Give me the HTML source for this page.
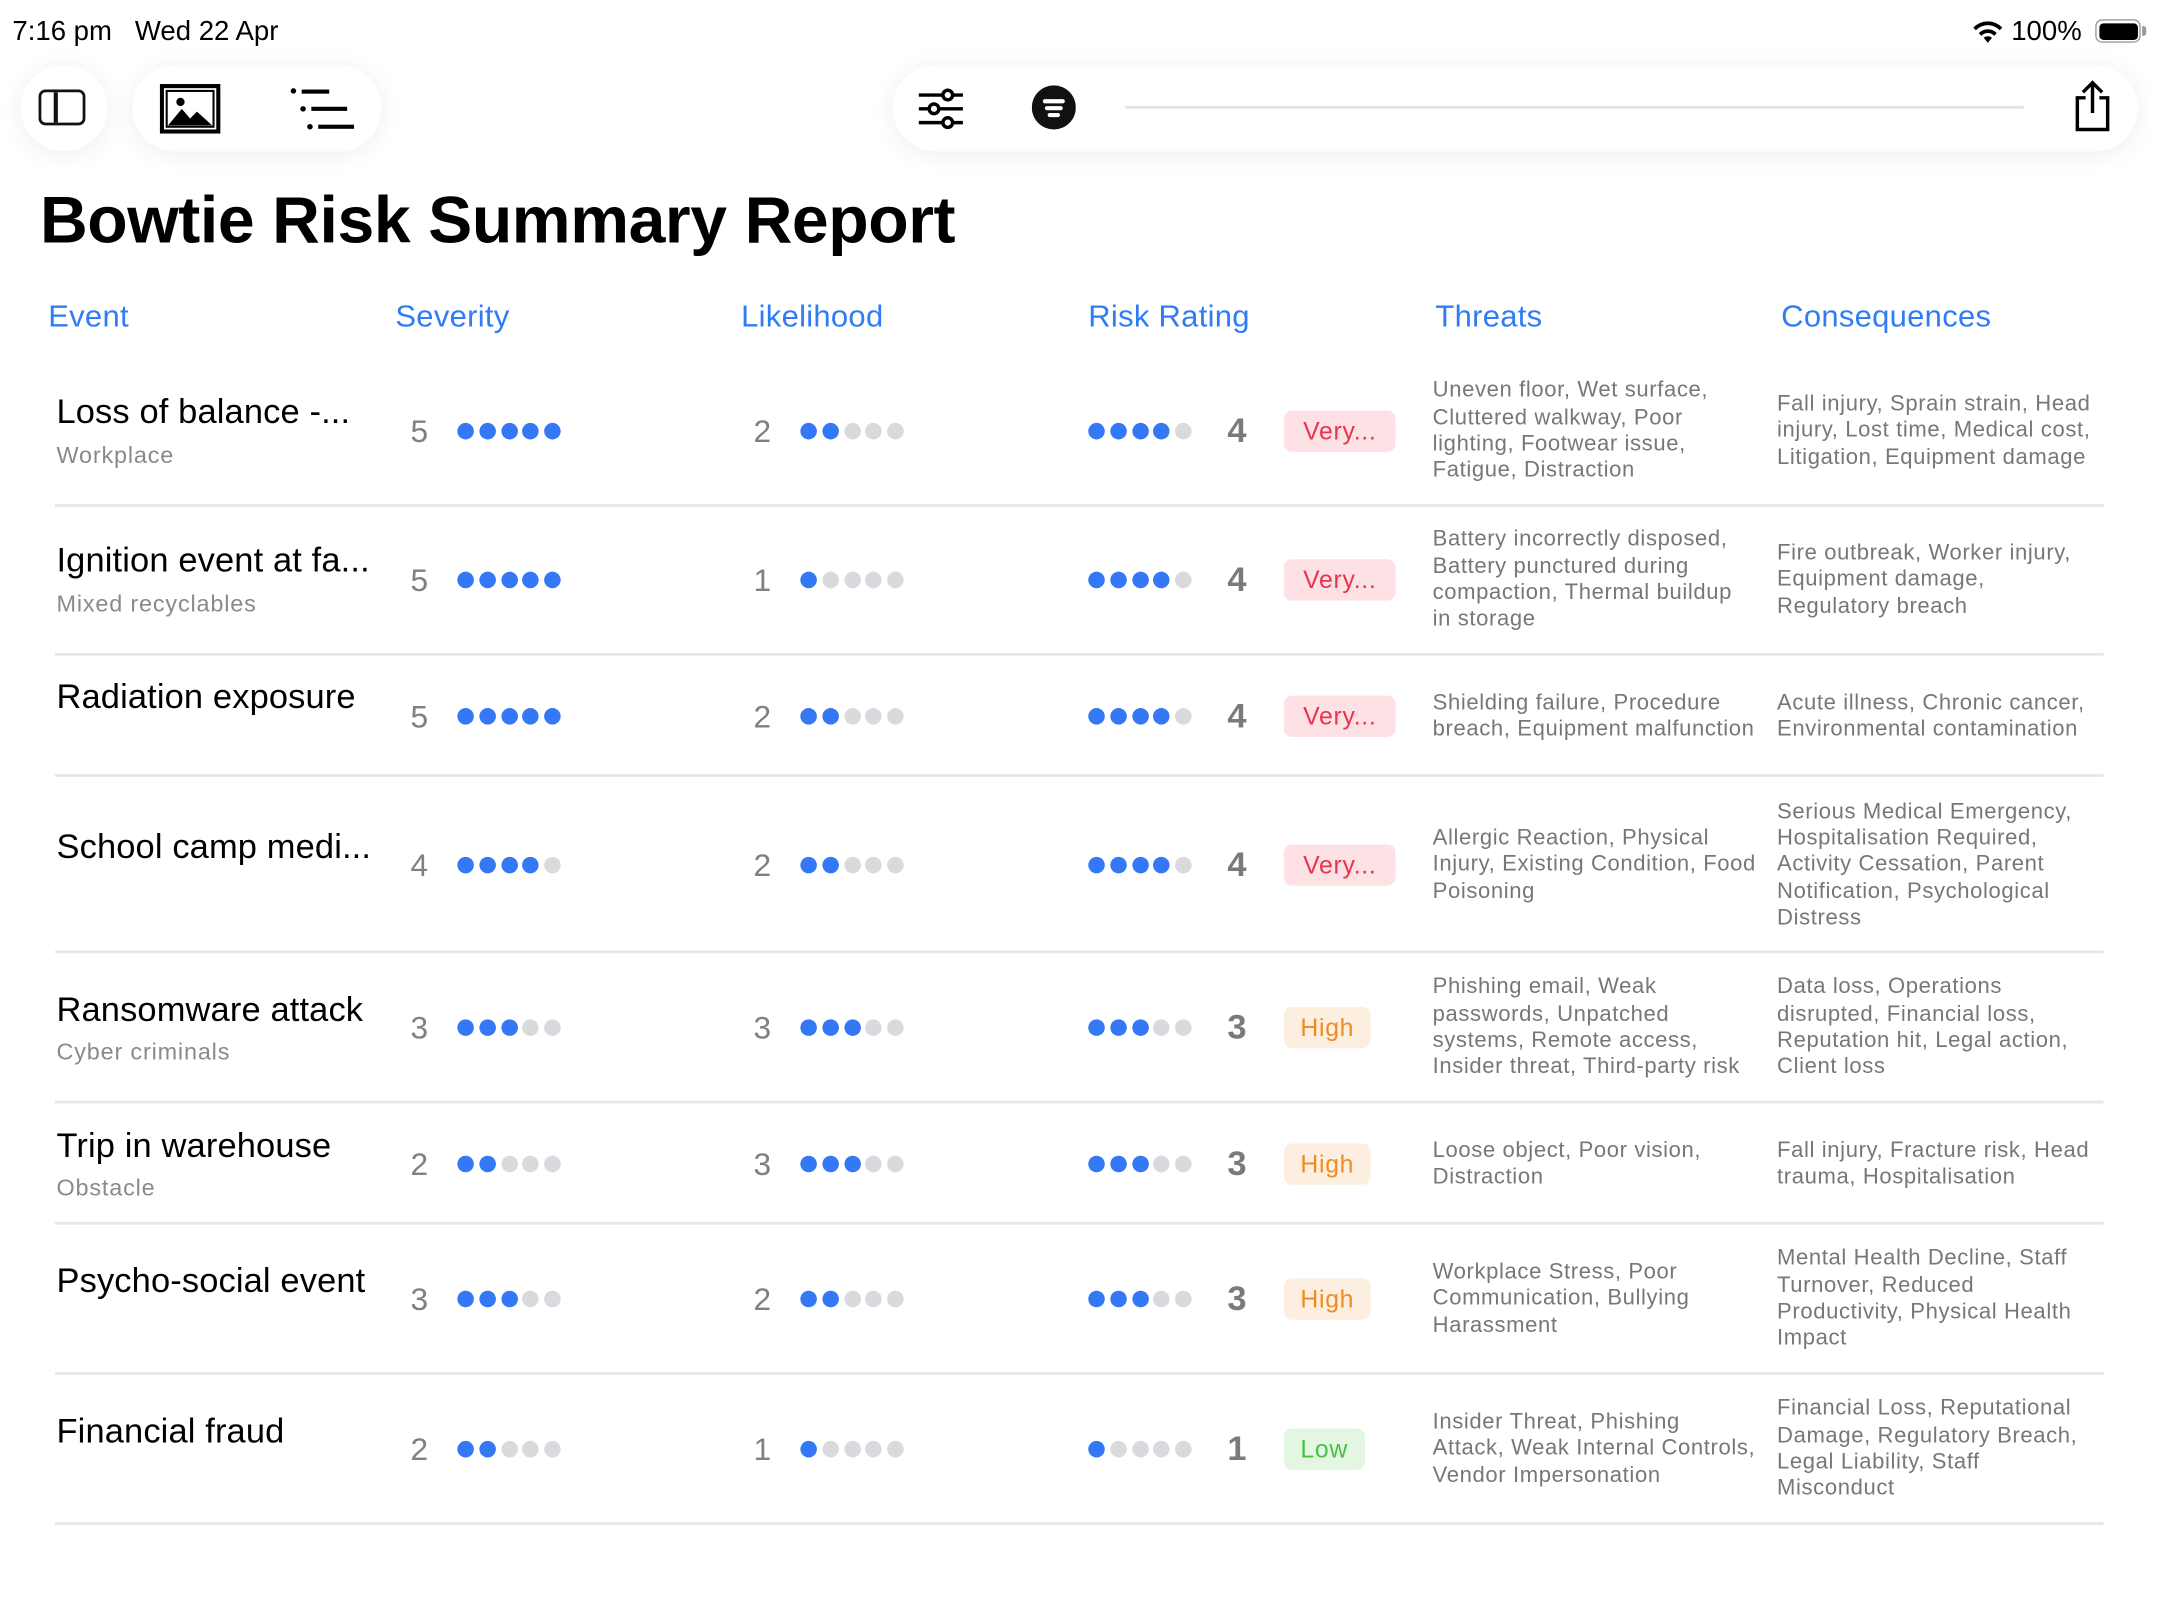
<!DOCTYPE html>
<html><head><meta charset="utf-8">
<style>
html,body{margin:0;padding:0;background:#fff;width:2160px;height:1620px;overflow:hidden}
#s{position:absolute;left:0;top:0;width:1568px;height:1176px;transform:scale(1.377551);transform-origin:0 0;font-family:"Liberation Sans",sans-serif;background:#fff}
.a{position:absolute}
.pill{position:absolute;background:#fff;border-radius:32px;box-shadow:0 2px 18px rgba(0,0,0,0.07)}
.hd{position:absolute;top:217px;font-size:22.5px;color:#2f7cf6;letter-spacing:0.2px}
.row{position:absolute;left:0;width:1568px}
.sep{position:absolute;left:40px;width:1487px;height:2px;background:#e6e6e6}
.c{position:absolute;top:0;bottom:0;display:flex;align-items:center}
.ev{position:absolute;left:41px;font-size:25px;color:#000;white-space:nowrap;letter-spacing:0.1px}
.sub{position:absolute;left:41px;font-size:17px;color:#8a8a8a;white-space:nowrap;letter-spacing:0.6px}
.num{font-size:23px;color:#808080;width:24px}
.dots{display:flex;gap:3.8px}
.d{width:12px;height:12px;border-radius:50%;background:#d9d9de}
.d.b{background:#3478f6}
.rn{font-size:25px;color:#7a7a7a;font-weight:bold}
.bd{height:30px;border-radius:6px;font-size:18px;display:flex;align-items:center;padding:0 12px;letter-spacing:0.5px}
.vh{background:#fde1e5;color:#e8334a;padding:0 14px}
.hi{background:#fdefe0;color:#f08a24}
.lo{background:#e3f6e2;color:#4cbf4a}
.tx{font-size:16px;line-height:19.3px;color:#777;white-space:nowrap;letter-spacing:0.45px}
</style></head><body><div id="s">
<div class="a" style="left:9px;top:12px;font-size:20px;color:#000">7:16 pm&nbsp;&nbsp; Wed 22 Apr</div>
<svg class="a" style="left:1431px;top:14px" width="24" height="18" viewBox="0 0 24 18"><path d="M12 17l-3-3.5a4.5 4.5 0 0 1 6 0z M5.5 10a9 9 0 0 1 13 0l-1.8 2a6.5 6.5 0 0 0-9.4 0z M1.5 6a14.5 14.5 0 0 1 21 0l-1.8 2a12 12 0 0 0-17.4 0z" fill="#000"/></svg>
<div class="a" style="left:1460px;top:12px;font-size:20px;color:#000">100%</div>
<div class="a" style="left:1521px;top:14px;width:33px;height:17px;border:1.5px solid #999;border-radius:5px;box-sizing:border-box"><div style="position:absolute;left:1.5px;top:1.5px;right:1.5px;bottom:1.5px;background:#000;border-radius:3px"></div></div>
<div class="a" style="left:1555px;top:19px;width:3px;height:7px;background:#999;border-radius:0 2px 2px 0"></div>

<div class="pill" style="left:15px;top:47px;width:63px;height:63px"></div>
<div class="a" style="left:28px;top:65px;width:34px;height:26px;border:2.5px solid #111;border-radius:5px;box-sizing:border-box"><div style="position:absolute;left:9px;top:0;bottom:0;width:2.5px;background:#111"></div></div>
<div class="pill" style="left:96px;top:47px;width:181px;height:63px"></div>
<svg class="a" style="left:116px;top:61px" width="44" height="36" viewBox="0 0 44 36"><rect x="1.5" y="1.5" width="41" height="33" fill="none" stroke="#000" stroke-width="3"/><rect x="5" y="5" width="34" height="26" fill="none" stroke="#000" stroke-width="1.5"/><circle cx="15" cy="13" r="3" fill="#000"/><path d="M6 30l10-12 6 7 5-5 11 10z" fill="#000"/></svg>
<svg class="a" style="left:210px;top:63px" width="48" height="32" viewBox="0 0 48 32"><circle cx="3" cy="3" r="2" fill="#000"/><rect x="9" y="2" width="20" height="3" fill="#000"/><circle cx="10" cy="16" r="2" fill="#000"/><rect x="16" y="14.5" width="26" height="3" fill="#000"/><circle cx="15" cy="29" r="2" fill="#000"/><rect x="21" y="27.5" width="26" height="3" fill="#000"/></svg>
<div class="pill" style="left:648px;top:47px;width:904px;height:63px"></div>
<svg class="a" style="left:666px;top:64px" width="34" height="30" viewBox="0 0 34 30"><g stroke="#000" stroke-width="2.5" fill="#fff"><line x1="1" y1="5" x2="33" y2="5"/><line x1="1" y1="15" x2="33" y2="15"/><line x1="1" y1="25" x2="33" y2="25"/><circle cx="22" cy="5" r="3.5"/><circle cx="12" cy="15" r="3.5"/><circle cx="22" cy="25" r="3.5"/></g></svg>
<svg class="a" style="left:749px;top:62px" width="32" height="32" viewBox="0 0 32 32"><circle cx="16" cy="16" r="16" fill="#111"/><rect x="8" y="10" width="16" height="3" rx="1.5" fill="#fff"/><rect x="9.5" y="15" width="13" height="3" rx="1.5" fill="#fff"/><rect x="11.5" y="20" width="9" height="3" rx="1.5" fill="#fff"/></svg>
<div class="a" style="left:817px;top:77px;width:652px;height:2px;background:#e3e3e3"></div>
<svg class="a" style="left:1504px;top:58px" width="30" height="38" viewBox="0 0 30 38"><path d="M10 13H4v23h22V13h-6" fill="none" stroke="#000" stroke-width="2.5"/><path d="M15 24V2M8 9l7-7 7 7" fill="none" stroke="#000" stroke-width="2.5"/></svg>

<div class="a" style="left:29px;top:133px;font-size:48px;font-weight:bold;color:#000;letter-spacing:-0.3px">Bowtie Risk Summary Report</div>

<div class="hd" style="left:35px">Event</div>
<div class="hd" style="left:287px">Severity</div>
<div class="hd" style="left:538px">Likelihood</div>
<div class="hd" style="left:790px">Risk Rating</div>
<div class="hd" style="left:1042px">Threats</div>
<div class="hd" style="left:1293px">Consequences</div>

<!-- Row 1 -->
<div class="row" style="top:259px;height:108px">
<div class="ev" style="top:26px">Loss of balance -...</div><div class="sub" style="top:62px">Workplace</div>
<div class="c" style="left:298px"><span class="num">5</span><div class="dots" style="margin-left:10px"><i class="d b"></i><i class="d b"></i><i class="d b"></i><i class="d b"></i><i class="d b"></i></div></div>
<div class="c" style="left:547px"><span class="num">2</span><div class="dots" style="margin-left:10px"><i class="d b"></i><i class="d b"></i><i class="d"></i><i class="d"></i><i class="d"></i></div></div>
<div class="c" style="left:790px"><div class="dots"><i class="d b"></i><i class="d b"></i><i class="d b"></i><i class="d b"></i><i class="d"></i></div></div>
<div class="c" style="left:891px"><span class="rn">4</span></div>
<div class="c" style="left:932px"><span class="bd vh">Very...</span></div>
<div class="c tx" style="left:1040px">Uneven floor, Wet surface,<br>Cluttered walkway, Poor<br>lighting, Footwear issue,<br>Fatigue, Distraction</div>
<div class="c tx" style="left:1290px">Fall injury, Sprain strain, Head<br>injury, Lost time, Medical cost,<br>Litigation, Equipment damage</div>
</div>
<div class="sep" style="top:366px"></div>

<!-- Row 2 -->
<div class="row" style="top:367px;height:108px">
<div class="ev" style="top:26px">Ignition event at fa...</div><div class="sub" style="top:62px">Mixed recyclables</div>
<div class="c" style="left:298px"><span class="num">5</span><div class="dots" style="margin-left:10px"><i class="d b"></i><i class="d b"></i><i class="d b"></i><i class="d b"></i><i class="d b"></i></div></div>
<div class="c" style="left:547px"><span class="num">1</span><div class="dots" style="margin-left:10px"><i class="d b"></i><i class="d"></i><i class="d"></i><i class="d"></i><i class="d"></i></div></div>
<div class="c" style="left:790px"><div class="dots"><i class="d b"></i><i class="d b"></i><i class="d b"></i><i class="d b"></i><i class="d"></i></div></div>
<div class="c" style="left:891px"><span class="rn">4</span></div>
<div class="c" style="left:932px"><span class="bd vh">Very...</span></div>
<div class="c tx" style="left:1040px">Battery incorrectly disposed,<br>Battery punctured during<br>compaction, Thermal buildup<br>in storage</div>
<div class="c tx" style="left:1290px">Fire outbreak, Worker injury,<br>Equipment damage,<br>Regulatory breach</div>
</div>
<div class="sep" style="top:474px"></div>

<!-- Row 3 -->
<div class="row" style="top:476px;height:88px">
<div class="ev" style="top:16px">Radiation exposure</div>
<div class="c" style="left:298px"><span class="num">5</span><div class="dots" style="margin-left:10px"><i class="d b"></i><i class="d b"></i><i class="d b"></i><i class="d b"></i><i class="d b"></i></div></div>
<div class="c" style="left:547px"><span class="num">2</span><div class="dots" style="margin-left:10px"><i class="d b"></i><i class="d b"></i><i class="d"></i><i class="d"></i><i class="d"></i></div></div>
<div class="c" style="left:790px"><div class="dots"><i class="d b"></i><i class="d b"></i><i class="d b"></i><i class="d b"></i><i class="d"></i></div></div>
<div class="c" style="left:891px"><span class="rn">4</span></div>
<div class="c" style="left:932px"><span class="bd vh">Very...</span></div>
<div class="c tx" style="left:1040px">Shielding failure, Procedure<br>breach, Equipment malfunction</div>
<div class="c tx" style="left:1290px">Acute illness, Chronic cancer,<br>Environmental contamination</div>
</div>
<div class="sep" style="top:562px"></div>

<!-- Row 4 -->
<div class="row" style="top:564px;height:128px">
<div class="ev" style="top:37px">School camp medi...</div>
<div class="c" style="left:298px"><span class="num">4</span><div class="dots" style="margin-left:10px"><i class="d b"></i><i class="d b"></i><i class="d b"></i><i class="d b"></i><i class="d"></i></div></div>
<div class="c" style="left:547px"><span class="num">2</span><div class="dots" style="margin-left:10px"><i class="d b"></i><i class="d b"></i><i class="d"></i><i class="d"></i><i class="d"></i></div></div>
<div class="c" style="left:790px"><div class="dots"><i class="d b"></i><i class="d b"></i><i class="d b"></i><i class="d b"></i><i class="d"></i></div></div>
<div class="c" style="left:891px"><span class="rn">4</span></div>
<div class="c" style="left:932px"><span class="bd vh">Very...</span></div>
<div class="c tx" style="left:1040px">Allergic Reaction, Physical<br>Injury, Existing Condition, Food<br>Poisoning</div>
<div class="c tx" style="left:1290px">Serious Medical Emergency,<br>Hospitalisation Required,<br>Activity Cessation, Parent<br>Notification, Psychological<br>Distress</div>
</div>
<div class="sep" style="top:690px"></div>

<!-- Row 5 -->
<div class="row" style="top:692px;height:108px">
<div class="ev" style="top:27px">Ransomware attack</div><div class="sub" style="top:62px">Cyber criminals</div>
<div class="c" style="left:298px"><span class="num">3</span><div class="dots" style="margin-left:10px"><i class="d b"></i><i class="d b"></i><i class="d b"></i><i class="d"></i><i class="d"></i></div></div>
<div class="c" style="left:547px"><span class="num">3</span><div class="dots" style="margin-left:10px"><i class="d b"></i><i class="d b"></i><i class="d b"></i><i class="d"></i><i class="d"></i></div></div>
<div class="c" style="left:790px"><div class="dots"><i class="d b"></i><i class="d b"></i><i class="d b"></i><i class="d"></i><i class="d"></i></div></div>
<div class="c" style="left:891px"><span class="rn">3</span></div>
<div class="c" style="left:932px"><span class="bd hi">High</span></div>
<div class="c tx" style="left:1040px">Phishing email, Weak<br>passwords, Unpatched<br>systems, Remote access,<br>Insider threat, Third-party risk</div>
<div class="c tx" style="left:1290px">Data loss, Operations<br>disrupted, Financial loss,<br>Reputation hit, Legal action,<br>Client loss</div>
</div>
<div class="sep" style="top:799px"></div>

<!-- Row 6 -->
<div class="row" style="top:801px;height:88px">
<div class="ev" style="top:17px">Trip in warehouse</div><div class="sub" style="top:52px">Obstacle</div>
<div class="c" style="left:298px"><span class="num">2</span><div class="dots" style="margin-left:10px"><i class="d b"></i><i class="d b"></i><i class="d"></i><i class="d"></i><i class="d"></i></div></div>
<div class="c" style="left:547px"><span class="num">3</span><div class="dots" style="margin-left:10px"><i class="d b"></i><i class="d b"></i><i class="d b"></i><i class="d"></i><i class="d"></i></div></div>
<div class="c" style="left:790px"><div class="dots"><i class="d b"></i><i class="d b"></i><i class="d b"></i><i class="d"></i><i class="d"></i></div></div>
<div class="c" style="left:891px"><span class="rn">3</span></div>
<div class="c" style="left:932px"><span class="bd hi">High</span></div>
<div class="c tx" style="left:1040px">Loose object, Poor vision,<br>Distraction</div>
<div class="c tx" style="left:1290px">Fall injury, Fracture risk, Head<br>trauma, Hospitalisation</div>
</div>
<div class="sep" style="top:887px"></div>

<!-- Row 7 -->
<div class="row" style="top:889px;height:108px">
<div class="ev" style="top:27px">Psycho-social event</div>
<div class="c" style="left:298px"><span class="num">3</span><div class="dots" style="margin-left:10px"><i class="d b"></i><i class="d b"></i><i class="d b"></i><i class="d"></i><i class="d"></i></div></div>
<div class="c" style="left:547px"><span class="num">2</span><div class="dots" style="margin-left:10px"><i class="d b"></i><i class="d b"></i><i class="d"></i><i class="d"></i><i class="d"></i></div></div>
<div class="c" style="left:790px"><div class="dots"><i class="d b"></i><i class="d b"></i><i class="d b"></i><i class="d"></i><i class="d"></i></div></div>
<div class="c" style="left:891px"><span class="rn">3</span></div>
<div class="c" style="left:932px"><span class="bd hi">High</span></div>
<div class="c tx" style="left:1040px">Workplace Stress, Poor<br>Communication, Bullying<br>Harassment</div>
<div class="c tx" style="left:1290px">Mental Health Decline, Staff<br>Turnover, Reduced<br>Productivity, Physical Health<br>Impact</div>
</div>
<div class="sep" style="top:996px"></div>

<!-- Row 8 -->
<div class="row" style="top:998px;height:108px">
<div class="ev" style="top:27px">Financial fraud</div>
<div class="c" style="left:298px"><span class="num">2</span><div class="dots" style="margin-left:10px"><i class="d b"></i><i class="d b"></i><i class="d"></i><i class="d"></i><i class="d"></i></div></div>
<div class="c" style="left:547px"><span class="num">1</span><div class="dots" style="margin-left:10px"><i class="d b"></i><i class="d"></i><i class="d"></i><i class="d"></i><i class="d"></i></div></div>
<div class="c" style="left:790px"><div class="dots"><i class="d b"></i><i class="d"></i><i class="d"></i><i class="d"></i><i class="d"></i></div></div>
<div class="c" style="left:891px"><span class="rn">1</span></div>
<div class="c" style="left:932px"><span class="bd lo">Low</span></div>
<div class="c tx" style="left:1040px">Insider Threat, Phishing<br>Attack, Weak Internal Controls,<br>Vendor Impersonation</div>
<div class="c tx" style="left:1290px">Financial Loss, Reputational<br>Damage, Regulatory Breach,<br>Legal Liability, Staff<br>Misconduct</div>
</div>
<div class="sep" style="top:1105px"></div>
</div></body></html>
